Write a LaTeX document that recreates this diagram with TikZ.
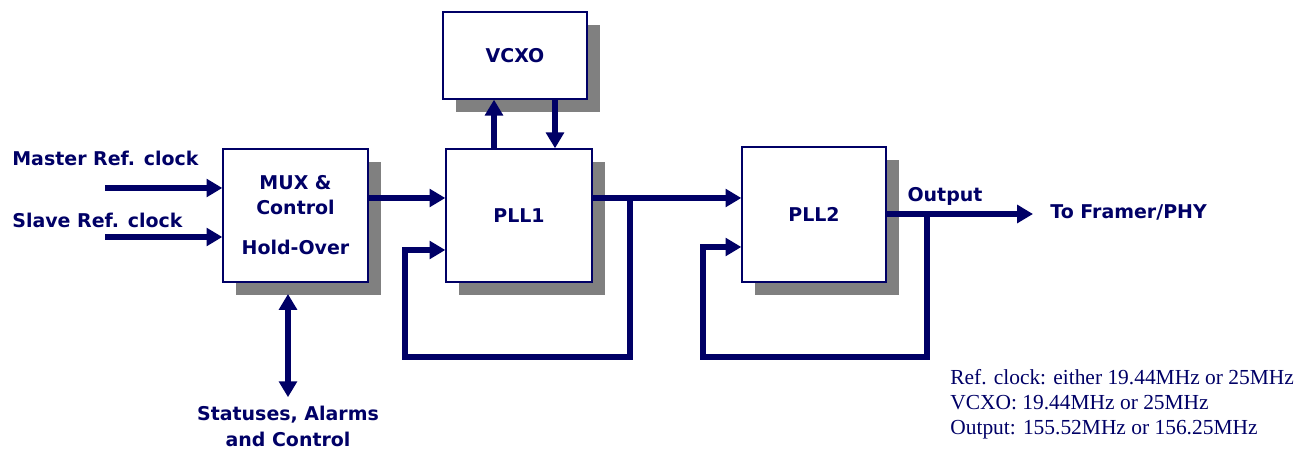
\documentclass[tikz,border=0pt]{standalone}
\usepackage{fontspec}
\setmainfont{Liberation Serif}
\newfontfamily\labelfont{DejaVu Sans}
\usetikzlibrary{arrows.meta,shadows}
\definecolor{navy}{RGB}{0,0,102}
\definecolor{shade}{RGB}{128,128,128}

\begin{document}
\begin{tikzpicture}[x=0.02cm, y=-0.02cm,
  block/.style={draw=navy, line width=0.8pt, fill=white, inner sep=0pt, text=navy, align=center,
    font=\labelfont\bfseries\fontsize{10.8}{14}\selectfont,
    drop shadow={shadow xshift=0.26cm, shadow yshift=-0.26cm, fill=shade, opacity=1}},
  sig/.style={draw=navy, line width=3.3pt, -{Triangle[length=9pt,width=10pt]}},
  both/.style={sig, {Triangle[length=9pt,width=10pt]}-{Triangle[length=9pt,width=10pt]}},
  lbl/.style={font=\labelfont\bfseries\fontsize{10.8}{14.5}\selectfont, text=navy, inner sep=0pt}
]
  \useasboundingbox (0,0) rectangle (1315,455);

  % Blocks
  \node[block, minimum width=2.9cm, minimum height=2.66cm] (mux) at (295.5,215.5) {MUX \&\\Control\\[9pt]Hold-Over};
  \node[block, minimum width=2.92cm, minimum height=2.66cm] (pll1) at (519,215.5) {PLL1};
  \node[block, minimum width=2.88cm, minimum height=1.74cm] (vcxo) at (515,55.5) {VCXO};
  \node[block, minimum width=2.88cm, minimum height=2.7cm] (pll2) at (814,214.5) {PLL2};

  % Labels
  \node[lbl, anchor=west] (master) at (12,158) {Master Ref. clock};
  \node[lbl, anchor=west] (slave) at (12,220) {Slave Ref. clock};
  \node[lbl] (outlbl) at (945,196) {Output};
  \node[lbl, anchor=west] (framer) at (1050,212) {To Framer/PHY};
  \node[lbl, anchor=north, align=center] (stat) at (288,406) {Statuses, Alarms\\and Control};
  \node[anchor=north west, align=left, inner sep=0pt, text=navy,
    font=\fontsize{12.2}{14.2}\selectfont] (notes) at (950,369)
    {Ref. clock: either 19.44MHz or 25MHz\\VCXO: 19.44MHz or 25MHz\\Output: 155.52MHz or 156.25MHz};

  % Points on the signal lines
  \coordinate (m1) at (105,188);
  \coordinate (s1) at (105,237);
  \coordinate (j1) at (630,198);
  \coordinate (fb1) at (405,357);
  \coordinate (r1) at (405,250);
  \coordinate (j2) at (927,214);
  \coordinate (fb2) at (703,357);
  \coordinate (r2) at (703,247);
  \coordinate (oend) at (1033,214);
  \coordinate (vu) at (494,0);
  \coordinate (vd) at (555,0);
  \coordinate (st) at (288,294);

  % Inputs
  \draw[sig] (m1) -- (m1 -| mux.west);
  \draw[sig] (s1) -- (s1 -| mux.west);

  % Main path
  \draw[sig] (mux.east |- j1) -- (pll1.west |- j1);
  \draw[sig] (pll1.east |- j1) -- (pll2.west |- j1);
  \draw[sig] (pll2.east |- oend) -- (oend);

  % Feedback loops
  \draw[sig] (j1) |- (fb1) -- (r1) -- (r1 -| pll1.west);
  \draw[sig] (j2) |- (fb2) -- (r2) -- (r2 -| pll2.west);

  % VCXO
  \draw[sig] (vu |- pll1.north) -- (vu |- vcxo.south);
  \draw[sig] (vd |- vcxo.south) -- (vd |- pll1.north);

  % Status bus
  \draw[both, shorten >=5pt] (st) -- (stat.north);
\end{tikzpicture}
\end{document}
